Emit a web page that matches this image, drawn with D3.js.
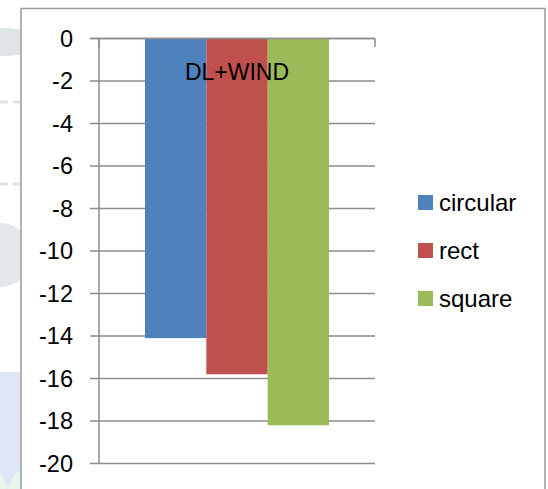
<!DOCTYPE html>
<html>
<head>
<meta charset="utf-8">
<script src="https://cdn.jsdelivr.net/npm/d3@7"></script>
<style>
  html, body { margin: 0; padding: 0; background: #ffffff; }
  svg { display: block; }
  text { font-family: "Liberation Sans", Arial, sans-serif; fill: #000; }
</style>
</head>
<body>
<script>
// Chart data
const categories = ["DL+WIND"];
const seriesNames = ["circular", "rect", "square"];
const seriesValues = [-14.1, -15.8, -18.2];
const seriesColors = ["#4F81BD", "#C0504D", "#9BBB59"];
const yTickValues = [0, -2, -4, -6, -8, -10, -12, -14, -16, -18, -20];

const W = 548, H = 489;
const plot = { left: 99, right: 375, top: 38.5, bottom: 463.5 };

const svg = d3.select("body").append("svg")
  .attr("width", W).attr("height", H);

// faint decorative background outside the chart frame
const bg = svg.append("g");
bg.append("ellipse").attr("cx", 2).attr("cy", 42).attr("rx", 40).attr("ry", 14)
  .attr("fill", "#dfe4e7");
bg.append("line").attr("x1", 0).attr("x2", 21).attr("y1", 102).attr("y2", 102)
  .attr("stroke", "#dde2e6").attr("stroke-width", 3).attr("stroke-dasharray", "8,5");
bg.append("line").attr("x1", 0).attr("x2", 21).attr("y1", 184).attr("y2", 184)
  .attr("stroke", "#dde2e6").attr("stroke-width", 3).attr("stroke-dasharray", "8,5");
bg.append("circle").attr("cx", 0).attr("cy", 255).attr("r", 32)
  .attr("fill", "#e3e8ea");
bg.append("rect").attr("x", 0).attr("y", 372).attr("width", 21).attr("height", 117)
  .attr("fill", "#dfe5f7");
bg.append("path").attr("d", "M0,470 L7,489 L0,489 Z").attr("fill", "#e6f6e8");
bg.append("path").attr("d", "M7,489 L14,475 L21,470 L21,489 Z").attr("fill", "#e6f6e8");

// chart frame
svg.append("rect")
  .attr("x", 21).attr("y", 8.5).attr("width", 524).attr("height", 490)
  .attr("fill", "#ffffff").attr("stroke", "#9a9a9a").attr("stroke-width", 1.5);

// scales
const x0 = d3.scaleBand().domain(categories).range([plot.left, plot.right]).padding(0);
const x1 = d3.scaleBand().domain(seriesNames).range([0, x0.bandwidth()])
  .paddingInner(0).paddingOuter(0.75);
const y = d3.scaleLinear().domain([0, -20]).range([plot.top, plot.bottom]);

const gridColor = "#8c8c8c";

// horizontal gridlines with left tick marks
svg.append("g").selectAll("line").data(yTickValues).join("line")
  .attr("x1", plot.left - 9).attr("x2", plot.right)
  .attr("y1", d => y(d)).attr("y2", d => y(d))
  .attr("stroke", gridColor).attr("stroke-width", 1.5);

// bars
const cat = svg.append("g").attr("transform", `translate(${x0(categories[0])},0)`);
cat.selectAll("rect").data(seriesValues).join("rect")
  .attr("x", (d, i) => x1(seriesNames[i]))
  .attr("width", x1.bandwidth())
  .attr("y", d => y(Math.max(0, d)))
  .attr("height", d => Math.abs(y(d) - y(0)))
  .attr("fill", (d, i) => seriesColors[i]);

// value axis line
svg.append("line")
  .attr("x1", plot.left).attr("x2", plot.left)
  .attr("y1", y(0)).attr("y2", y(-20))
  .attr("stroke", gridColor).attr("stroke-width", 1.5);

// category axis at zero with its tick marks
svg.append("line")
  .attr("x1", plot.left - 9).attr("x2", plot.right)
  .attr("y1", y(0)).attr("y2", y(0))
  .attr("stroke", gridColor).attr("stroke-width", 1.5);
svg.append("g").selectAll("line").data([plot.left, plot.right]).join("line")
  .attr("x1", d => d).attr("x2", d => d)
  .attr("y1", y(0)).attr("y2", y(0) + 8.5)
  .attr("stroke", gridColor).attr("stroke-width", 1.5);

// tick labels
svg.append("g").selectAll("text").data(yTickValues).join("text")
  .attr("x", 73).attr("y", d => y(d))
  .attr("dy", "0.36em")
  .attr("text-anchor", "end")
  .style("font-size", "23.5px")
  .text(d => d3.format("")(d).replace("−", "-"));

// category label
svg.append("text")
  .attr("x", x0(categories[0]) + x0.bandwidth() / 2)
  .attr("y", 80)
  .attr("text-anchor", "middle")
  .style("font-size", "23px")
  .text(categories[0]);

// legend
const legend = svg.append("g");
const lg = legend.selectAll("g").data(seriesNames).join("g")
  .attr("transform", (d, i) => `translate(418,${195 + i * 48})`);
lg.append("rect").attr("width", 15).attr("height", 15)
  .attr("fill", (d, i) => seriesColors[i]);
lg.append("text").attr("x", 21).attr("y", 15.7)
  .style("font-size", "24px")
  .text(d => d);
</script>
</body>
</html>
